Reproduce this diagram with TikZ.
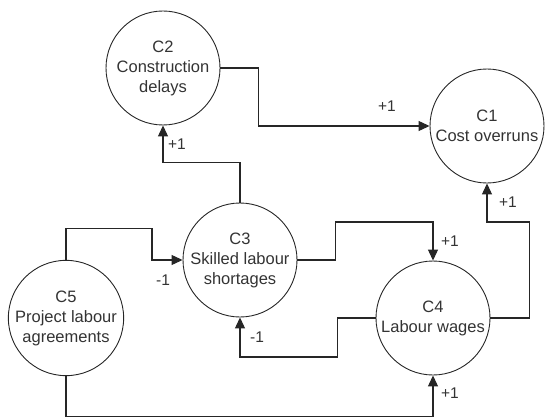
\documentclass[tikz,border=0pt]{standalone}
\usepackage{fontspec}
\setmainfont{Liberation Sans}
\usetikzlibrary{arrows.meta}
\begin{document}
\begin{tikzpicture}[x=1pt,y=-1pt,
  concept/.style={circle,draw=black!85,line width=0.9pt,minimum size=114pt,inner sep=0pt,
    align=center,font=\fontsize{16.5}{20}\selectfont,text=black!80},
  link/.style={draw=black!85,line width=1.1pt,-{Triangle[length=11pt,width=10pt]}},
  sign/.style={font=\fontsize{15.5}{18}\selectfont,text=black!80,inner sep=0pt}]
\useasboundingbox (0,0) rectangle (545,417);
\node[concept] (C2) at (163,68) {C2\\Construction\\delays};
\node[concept] (C1) at (487,126) {C1\\Cost overruns};
\node[concept] (C3) at (240,260) {C3\\Skilled labour\\shortages};
\node[concept] (C4) at (433,318) {C4\\Labour wages};
\node[concept] (C5) at (66,318) {C5\\Project labour\\agreements};
\draw[link] (C2.east) -- ++(38,0) |- (C1.west);
\draw[link] (C3.north) -- ++(0,-40) -| (C2.south);
\draw[link] (C3.east) -- ++(38,0) -- ++(0,-38) -| (C4.north);
\draw[link] (C4.west) -- ++(-38,0) -- ++(0,39) -| (C3.south);
\draw[link] (C4.east) -- ++(39,0) -- ++(0,-96) -| (C1.south);
\draw[link] (C5.north) -- ++(0,-31) -- ++(86,0) |- (C3.west);
\draw[link] (C5.south) -- ++(0,40) -| (C4.south);
\node[sign] (s21) at (387,106) {+1};
\node[sign] (s32) at (177,144) {+1};
\node[sign] (s34) at (450,241) {+1};
\node[sign] (s43) at (257,337) {-1};
\node[sign] (s41) at (508,202) {+1};
\node[sign] (s53) at (163,280) {-1};
\node[sign] (s54) at (450,393) {+1};
\end{tikzpicture}
\end{document}
